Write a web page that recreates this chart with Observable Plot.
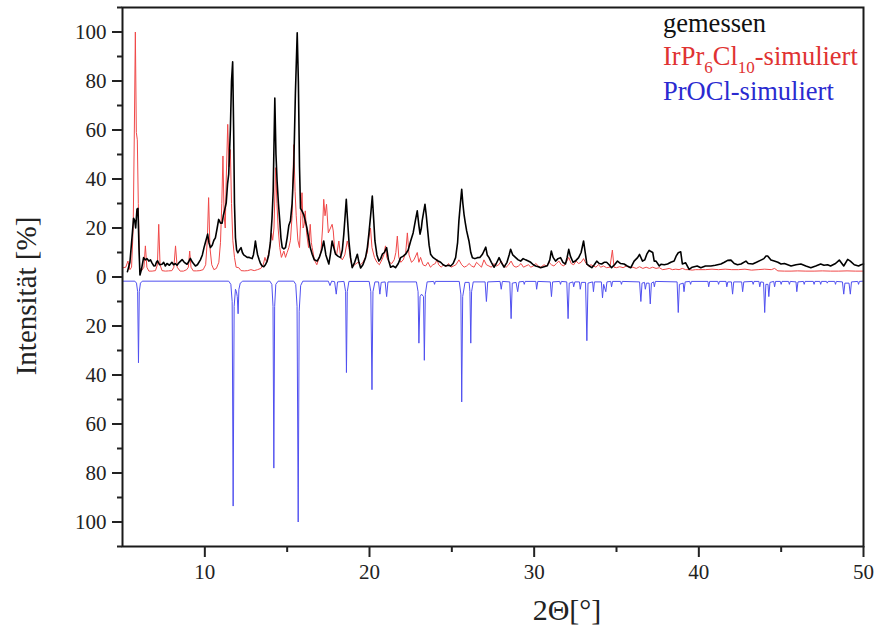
<!DOCTYPE html>
<html><head><meta charset="utf-8">
<script src="https://cdn.jsdelivr.net/npm/d3@7"></script>
<script src="https://cdn.jsdelivr.net/npm/@observablehq/plot@0.6"></script>
<style>
body{margin:0;background:#fff}
#chart svg text{font-family:"Liberation Serif","Times New Roman",serif !important;}
</style>
</head><body><div id="chart"></div>
<script>
// ---- data (2Θ in degrees, intensity in %) ----
const xMajorTicks = [10, 20, 30, 40, 50];
const xMinorTicks = [15, 25, 35, 45];
const yMajorTicks = [-100, -80, -60, -40, -20, 0, 20, 40, 60, 80, 100];
const yMinorTicks = [-110, -90, -70, -50, -30, -10, 10, 30, 50, 70, 90, 110];
const xTitle = "2Θ[°]";
const yTitle = "Intensität [%]";
const legendMeasured = "gemessen";
const legendIrPr = [["IrPr", false], ["6", true], ["Cl", false], ["10", true], ["-simuliert", false]];
const legendPrOCl = "PrOCl-simuliert";

const measured = [
[5.3,2.2],[5.45,6],[5.6,18],[5.67,24],[5.74,23],[5.8,20],[5.88,27.7],[5.94,28],[6.0,12],[6.06,0.8],[6.15,3],[6.28,7.9],[6.38,7],[6.49,7.5],[6.6,6.5],[6.7,7],[6.79,5.8],[6.9,4.5],[6.99,4.6],[7.06,6],[7.13,6.6],[7.25,5],[7.4,5.2],[7.5,6],[7.6,4.5],[7.7,5.5],[7.85,4.8],[8.0,6],[8.1,5],[8.2,5.5],[8.31,4.8],[8.45,6],[8.62,7.1],[8.75,6],[8.92,5.2],[9.0,6],[9.12,7.6],[9.25,6],[9.43,4.5],[9.55,5],[9.73,7],[9.85,9],[9.95,12],[10.03,14],[10.17,17.5],[10.25,14],[10.34,12],[10.45,13],[10.55,15],[10.64,16],[10.75,20],[10.84,23.5],[10.95,22],[11.05,22],[11.12,25],[11.19,27],[11.3,30.3],[11.38,38],[11.45,42],[11.55,60],[11.62,80],[11.69,87.8],[11.75,60],[11.8,30],[11.86,16],[11.93,11],[12.0,9.9],[12.1,11],[12.2,12],[12.28,10],[12.36,9],[12.47,8.5],[12.57,8],[12.7,8],[12.87,7.5],[12.95,9],[13.02,12],[13.07,14.7],[13.13,12],[13.2,9.2],[13.3,7],[13.38,5.5],[13.48,4.5],[13.58,4.2],[13.68,5],[13.78,6.4],[13.88,9],[13.98,14],[14.08,24],[14.15,35],[14.25,73],[14.32,50],[14.39,39],[14.47,30],[14.55,23],[14.62,16],[14.7,12],[14.8,11.5],[14.9,12],[15.0,16],[15.1,21],[15.2,23],[15.3,30],[15.4,45],[15.5,75],[15.61,99.7],[15.68,80],[15.75,45],[15.81,28],[15.9,27],[16.0,25.6],[16.1,23],[16.2,20],[16.3,16],[16.4,12],[16.52,9.3],[16.65,7],[16.82,6.5],[16.95,8],[17.1,11],[17.22,14.7],[17.35,9],[17.53,5.3],[17.62,9],[17.73,14.7],[17.83,12],[17.94,9.3],[18.08,8.5],[18.24,7.9],[18.35,11],[18.44,17.5],[18.52,25],[18.59,31.7],[18.66,24],[18.75,14.7],[18.85,8],[18.95,3.8],[19.1,6],[19.26,9.3],[19.36,6],[19.46,3.7],[19.6,5],[19.76,7.9],[19.87,12],[19.96,17.5],[20.08,26],[20.17,33],[20.25,24],[20.33,14.7],[20.45,9],[20.57,6.5],[20.68,7.5],[20.78,9.3],[20.9,10],[21.04,12],[21.15,7],[21.28,4],[21.43,4.5],[21.58,3.8],[21.75,5.5],[21.89,7.9],[22.05,8.5],[22.19,9.3],[22.35,11],[22.5,14.7],[22.65,18],[22.8,23.5],[22.9,27],[23.0,21],[23.07,17.5],[23.15,20],[23.2,23],[23.3,27],[23.37,29.7],[23.45,25],[23.52,20],[23.62,13],[23.71,9.3],[23.85,8],[24.02,7.2],[24.17,6.5],[24.32,6],[24.47,5],[24.62,4.5],[24.78,4.8],[24.93,4.5],[25.08,5.5],[25.23,7.9],[25.35,14],[25.43,23],[25.52,30],[25.6,35.8],[25.67,30],[25.74,25.6],[25.82,22],[25.9,18.8],[26.04,14.7],[26.15,10],[26.25,7.9],[26.4,7.5],[26.55,7.9],[26.7,8],[26.86,9.3],[27.06,12.2],[27.15,9],[27.26,7.9],[27.4,6],[27.56,4],[27.7,5.5],[27.87,7.9],[28.0,6],[28.17,4],[28.35,6],[28.48,9],[28.57,11.3],[28.7,9],[28.88,7.9],[29.03,7],[29.18,6.5],[29.33,7.5],[29.48,7],[29.64,6.5],[29.79,6],[29.95,5],[30.09,4.5],[30.25,4.2],[30.39,3.8],[30.6,4.2],[30.8,4.6],[30.95,7],[31.04,10.6],[31.15,8],[31.3,6.5],[31.45,7.5],[31.6,7.9],[31.75,6],[31.9,5.3],[32.0,7.9],[32.1,11.3],[32.2,8.5],[32.36,6],[32.5,6.5],[32.7,7.9],[32.85,10],[33.0,14.7],[33.1,10],[33.2,5.3],[33.35,4.5],[33.5,3.8],[33.65,5],[33.8,6.5],[33.95,5.5],[34.1,5.3],[34.25,6],[34.4,6],[34.55,5],[34.7,3.8],[34.88,5],[35.06,6.5],[35.25,5.5],[35.46,5.3],[35.65,4.5],[35.87,3.8],[36.07,6.5],[36.28,7.9],[36.4,9.2],[36.58,6.5],[36.72,7],[36.84,9.3],[36.98,10.9],[37.04,10.6],[37.2,10],[37.29,6.5],[37.4,6.5],[37.6,4.5],[37.7,5.2],[37.9,5],[38.1,5.3],[38.3,6],[38.5,6.5],[38.62,8.5],[38.75,9.9],[38.9,10.3],[39.0,5.3],[39.2,5.8],[39.41,3.1],[39.6,4],[39.9,4.5],[40.12,3.8],[40.4,4.5],[40.73,4.5],[41.0,4.8],[41.34,5.3],[41.55,6],[41.75,6.8],[41.95,6.9],[42.15,5.5],[42.35,5],[42.56,5.3],[42.86,6.5],[43.0,5.5],[43.27,5.3],[43.5,6],[43.77,6.9],[43.95,7.5],[44.08,8.6],[44.18,8.6],[44.38,6.9],[44.58,6.5],[44.8,6],[44.99,5.3],[45.2,5.5],[45.4,5],[45.6,4.5],[45.9,5],[46.2,5.3],[46.5,4.5],[46.8,3.8],[47.1,4.5],[47.4,5.3],[47.6,4.8],[47.82,5],[48.0,4.5],[48.3,5.5],[48.53,6.9],[48.8,4.5],[49.04,7.2],[49.2,6.5],[49.44,5],[49.7,4.5],[49.85,5],[50.0,5.3]
];

const irpr6cl10 = [
[5.05,3.8],[5.2,4],[5.33,6.5],[5.45,3],[5.55,4],[5.65,20],[5.72,60],[5.78,100],[5.84,59],[5.9,56],[5.96,30],[6.04,3.8],[6.15,2.5],[6.3,4],[6.39,12.7],[6.48,4],[6.6,2.4],[6.8,2.4],[7.0,2.6],[7.12,5],[7.2,21.5],[7.28,5],[7.4,2.6],[7.6,2.4],[7.8,2.5],[8.0,2.6],[8.12,4],[8.22,12.7],[8.32,4],[8.5,2.4],[8.7,2.4],[8.9,3],[9.0,4],[9.08,10.6],[9.16,4],[9.3,2.5],[9.5,2.5],[9.7,2.6],[9.9,3],[10.05,5],[10.15,15],[10.23,32.4],[10.31,12],[10.42,5],[10.55,3],[10.7,3.5],[10.85,6],[10.95,14],[11.03,30],[11.1,49.4],[11.17,25],[11.24,20],[11.3,40],[11.39,62.3],[11.47,45],[11.55,52],[11.62,30],[11.7,15],[11.8,8],[11.9,4],[12.06,3.8],[12.2,2.6],[12.4,2.5],[12.6,2.6],[12.8,3],[13.0,2.6],[13.2,3],[13.4,3.5],[13.55,5],[13.65,8],[13.75,6],[13.85,9],[13.95,12],[14.05,18],[14.12,15],[14.2,20],[14.3,44.6],[14.38,30],[14.45,20],[14.55,12],[14.65,8],[14.8,10.6],[14.9,8],[15.0,10],[15.1,12],[15.2,15],[15.3,25],[15.4,54],[15.48,35],[15.55,25],[15.65,15],[15.75,12],[15.83,25],[15.9,34.4],[15.97,20],[16.05,22],[16.1,27],[16.18,18],[16.3,12],[16.4,21.5],[16.47,14],[16.52,12],[16.65,7],[16.8,5],[16.95,8],[17.05,10],[17.15,20],[17.22,31.7],[17.3,25],[17.39,29.7],[17.5,18],[17.63,20],[17.73,21.5],[17.8,18.8],[17.9,10],[18.0,9],[18.14,14.7],[18.25,8],[18.35,7],[18.5,9],[18.65,14.7],[18.75,12],[18.85,7],[18.95,4],[19.1,5],[19.3,6],[19.45,5],[19.6,6],[19.75,8],[19.87,10],[19.96,16],[20.06,20],[20.15,12],[20.3,8],[20.45,6],[20.6,5],[20.75,7],[20.87,9],[20.97,12.7],[21.05,8],[21.2,6],[21.35,5.5],[21.5,7],[21.6,10],[21.69,16.7],[21.78,8],[21.9,6],[22.05,7],[22.2,10],[22.3,18],[22.4,9],[22.55,6],[22.7,7],[22.9,10],[23.0,6],[23.1,8],[23.25,5],[23.4,4.5],[23.55,6],[23.7,4],[23.85,5],[24.0,5.5],[24.1,7.2],[24.2,5],[24.35,4],[24.5,5],[24.65,4.2],[24.8,5.5],[24.95,4],[25.1,4.5],[25.25,5],[25.43,7],[25.6,5],[25.75,4],[25.9,4.5],[26.05,5.5],[26.2,4.5],[26.35,4],[26.5,6],[26.65,5],[26.8,4],[26.95,7],[27.1,5],[27.25,4.5],[27.4,4],[27.55,5.5],[27.7,4.5],[27.85,5],[28.0,6.5],[28.15,4.5],[28.3,4],[28.45,5],[28.6,6.5],[28.75,4.5],[28.9,4],[29.05,4.5],[29.2,5.5],[29.35,4],[29.5,4.5],[29.65,5],[29.8,4],[29.95,4.5],[30.1,5.5],[30.25,4.5],[30.4,4],[30.6,5],[30.75,4.5],[30.9,6],[31.05,5],[31.2,4.5],[31.35,5.5],[31.5,6.5],[31.65,5],[31.8,4.5],[31.95,6],[32.1,8],[32.25,5.5],[32.4,5],[32.55,6.5],[32.7,5.5],[32.85,6],[33.0,7.5],[33.15,5.5],[33.3,4.5],[33.45,5],[33.6,4.5],[33.75,4],[33.9,5],[34.05,4],[34.2,4.5],[34.4,3.8],[34.6,4],[34.75,11],[34.85,4],[35.0,3.8],[35.2,4.2],[35.4,3.8],[35.6,4.5],[35.8,3.8],[36.0,4],[36.2,3.5],[36.4,4.2],[36.6,3.5],[36.8,4],[37.0,3.5],[37.2,4],[37.4,3.5],[37.6,3.8],[37.8,3],[38.0,3.2],[38.2,3.5],[38.4,3],[38.6,3.2],[38.8,3],[39.0,3.5],[39.2,3],[39.4,3],[39.6,2.8],[39.8,3],[40.0,3],[40.4,3],[40.8,3.2],[41.2,3],[41.6,3.2],[42.0,3],[42.4,3],[42.8,3.2],[43.2,2.8],[43.6,3],[44.0,3.2],[44.4,3],[44.6,3.5],[44.8,2.5],[45.2,2.4],[45.6,2.4],[46.0,2.5],[46.5,2.4],[47.0,2.4],[47.5,2.5],[48.0,2.4],[48.5,2.4],[49.0,2.5],[49.5,2.4],[50.0,2.4]
];

const procl = [
[5.0,-1.7],[5.75,-1.7],[5.85,-2.5],[5.92,-6],[5.97,-35],[6.02,-6],[6.09,-2.5],[6.2,-1.7],
[11.45,-1.7],[11.58,-3],[11.66,-10],[11.72,-93.5],[11.78,-12],[11.86,-5],[11.92,-6],[11.97,-8],[12.02,-15],[12.07,-5],[12.15,-2.5],[12.3,-1.7],
[13.95,-1.7],[14.07,-3],[14.14,-12],[14.19,-78],[14.24,-12],[14.31,-3],[14.45,-1.7],
[15.4,-1.7],[15.52,-3],[15.6,-12],[15.67,-100],[15.73,-14],[15.82,-3.5],[15.95,-1.7],
[17.5,-1.7],[17.6,-3.5],[17.7,-1.7],[17.88,-1.9],[17.98,-7],[18.06,-2],[18.45,-1.8],[18.55,-6],[18.6,-39],[18.65,-6],[18.75,-1.8],
[19.98,-1.8],[20.08,-6],[20.15,-46],[20.21,-6],[20.33,-2],[20.55,-2],[20.63,-7],[20.71,-2.2],[20.95,-2],[21.04,-8],[21.12,-2],
[22.85,-2],[22.95,-6],[23.0,-27],[23.07,-8],[23.16,-7],[23.28,-8],[23.33,-34],[23.39,-7],[23.5,-2],[23.9,-1.8],[23.95,-3],[24.0,-1.8],
[25.45,-1.8],[25.55,-7],[25.6,-51],[25.66,-8],[25.8,-2.2],[26.05,-2.2],[26.1,-6],[26.15,-27],[26.2,-6],[26.3,-2],
[27.02,-2],[27.1,-10],[27.18,-2],[27.93,-1.8],[28.0,-5],[28.07,-1.8],[28.52,-2],[28.6,-17],[28.67,-2.5],[28.9,-2.2],[29.0,-6],[29.08,-2],[29.35,-1.8],[29.4,-3],[29.45,-1.8],
[30.1,-1.8],[30.15,-5],[30.22,-1.8],[30.98,-2],[31.05,-8],[31.12,-2],[31.55,-1.8],[31.6,-3],[31.65,-1.8],[31.98,-2],[32.06,-17],[32.13,-2.5],[32.35,-2],[32.4,-4],[32.47,-2],[32.75,-2],[32.8,-5],[32.87,-2.2],[33.12,-2.2],[33.2,-26],[33.27,-2.5],[33.55,-2],[33.6,-6],[33.66,-2],
[34.08,-2],[34.15,-8.5],[34.22,-3],[34.35,-6],[34.42,-2],[34.65,-1.8],[34.7,-4],[34.76,-1.8],[35.25,-1.8],[35.3,-3],[35.35,-1.8],
[36.4,-2],[36.48,-10],[36.55,-2.5],[36.7,-2.2],[36.75,-5],[36.82,-2.5],[36.98,-2.5],[37.05,-11],[37.12,-2.5],[37.25,-2],[37.3,-4],[37.36,-1.8],
[38.68,-2],[38.75,-14.5],[38.82,-3],[39.05,-2.5],[39.1,-6],[39.17,-2],[39.45,-1.8],[39.5,-3],[39.55,-1.8],
[40.55,-1.8],[40.6,-4],[40.66,-1.8],[41.15,-1.8],[41.2,-3],[41.25,-1.8],[41.65,-1.8],[41.7,-4],[41.76,-2],[41.98,-2],[42.05,-7],[42.12,-2],[42.6,-2],[42.66,-6],[42.73,-2],
[43.25,-1.8],[43.3,-3],[43.35,-1.8],[43.65,-1.8],[43.7,-4],[43.76,-2],[43.93,-2.2],[44.0,-14.5],[44.07,-3],[44.2,-3],[44.25,-8],[44.32,-2.2],[44.55,-1.8],[44.6,-4],[44.66,-1.8],
[44.95,-1.8],[45.0,-3],[45.05,-1.8],[45.45,-1.8],[45.5,-3],[45.55,-1.8],[45.9,-2],[45.95,-6],[46.02,-2],[46.35,-1.8],[46.4,-3],[46.45,-1.8],[46.95,-1.8],[47.0,-3],[47.05,-1.8],[47.35,-1.8],[47.4,-3],[47.45,-1.8],[47.75,-1.8],[47.8,-2.5],[47.85,-1.8],[48.25,-1.8],[48.3,-3],[48.35,-1.8],
[48.72,-2],[48.8,-7],[48.87,-2.5],[49.12,-2.5],[49.2,-7],[49.27,-2],[49.65,-1.8],[49.7,-3],[49.75,-1.8],[50.0,-1.7]
];

// ---- chart ----
const FONT = "'Liberation Serif', 'Times New Roman', serif";
const X = d => d[0], Y = d => d[1];

const svgEl = Plot.plot({
  width: 877, height: 634,
  marginLeft: 122, marginRight: 14, marginTop: 7, marginBottom: 88,
  x: {domain: [5, 50]},
  y: {domain: [-110, 110]},
  style: {fontFamily: FONT, fontSize: "21px", color: "#222", background: "#fff"},
  marks: [
    Plot.line(irpr6cl10, {x: X, y: Y, stroke: "#f04848", strokeWidth: 1}),
    Plot.line(procl, {x: X, y: Y, stroke: "#5050f0", strokeWidth: 1}),
    Plot.line(measured, {x: X, y: Y, stroke: "#000", strokeWidth: 1.6}),
    Plot.frame({stroke: "#1a1a1a", strokeWidth: 2}),
    Plot.axisY({ticks: yMajorTicks, tickSize: 10, tickPadding: 6, tickFormat: d => Math.abs(d), label: null, fontSize: 21, strokeWidth: 2}),
    Plot.axisY({ticks: yMinorTicks, tickSize: 5, tickFormat: () => "", label: null, strokeWidth: 2}),
    Plot.axisX({ticks: xMajorTicks, tickSize: 11, tickPadding: 7, label: null, fontSize: 21, strokeWidth: 2}),
    Plot.axisX({ticks: xMinorTicks, tickSize: 6, tickFormat: () => "", label: null, strokeWidth: 2})
  ]
});
document.getElementById("chart").appendChild(svgEl);

const svg = d3.select(svgEl);
// axis titles
svg.append("text")
  .attr("transform", "translate(36,296) rotate(-90)")
  .attr("text-anchor", "middle").attr("font-size", 29).attr("fill", "#222")
  .text(yTitle);
svg.append("text")
  .attr("x", 567).attr("y", 620)
  .attr("text-anchor", "middle").attr("font-size", 30).attr("fill", "#222")
  .text(xTitle);

// legend
const lg = svg.append("g").attr("font-size", 26.5).attr("text-anchor", "start");
lg.append("text").attr("x", 663).attr("y", 32).attr("fill", "#111").text(legendMeasured);
const t2 = lg.append("text").attr("x", 663).attr("y", 65).attr("fill", "#e03232");
let sub = false;
legendIrPr.forEach(([s, isSub]) => {
  const ts = t2.append("tspan").text(s);
  if (isSub && !sub) { ts.attr("dy", 8).attr("font-size", 17); sub = true; }
  else if (isSub) { ts.attr("font-size", 17); }
  else if (sub) { ts.attr("dy", -8); sub = false; }
});
lg.append("text").attr("x", 663).attr("y", 100).attr("fill", "#2a2ad0").text(legendPrOCl);

// force serif font and tick-label size inline
svg.selectAll("text").style("font-family", FONT);
svg.selectAll("g[aria-label$='tick label'] text").style("font-size", "21px");
</script>
</body></html>
